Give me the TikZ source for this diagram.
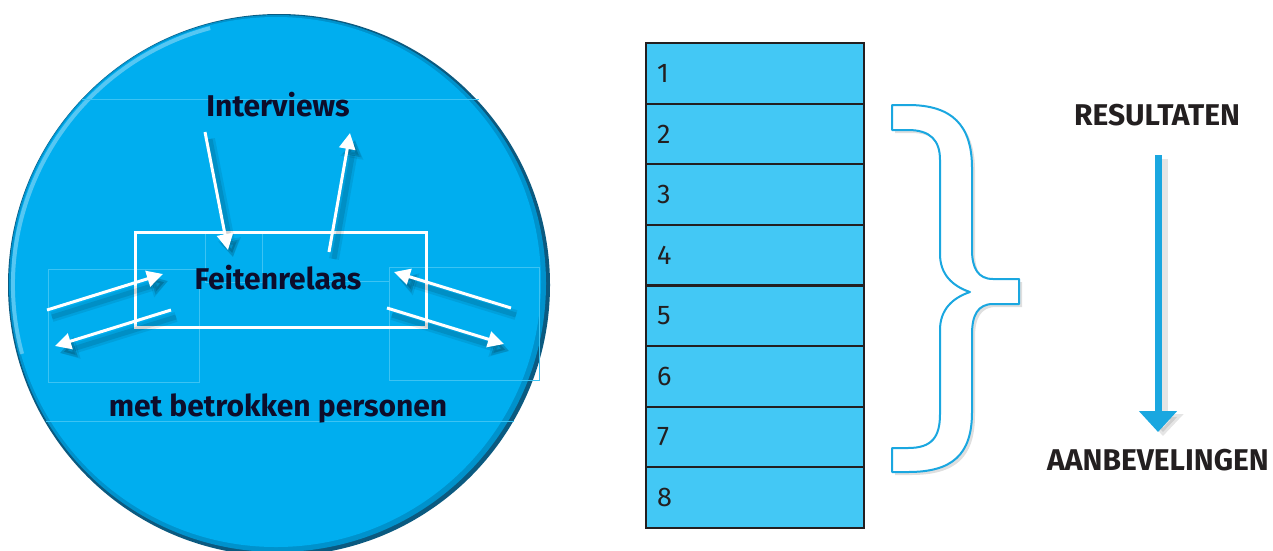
\documentclass[tikz,border=0pt]{standalone}
\usepackage{fontspec}
\setmainfont{Fira Sans}
\usetikzlibrary{arrows.meta,calc,shadows}
\definecolor{cyanball}{HTML}{00AEEF}
\definecolor{cyanmid}{HTML}{0092CC}
\definecolor{rimdark}{HTML}{0B5A80}
\definecolor{rimlight}{HTML}{8FD8F6}
\definecolor{cellblue}{HTML}{43C8F5}
\definecolor{inkdark}{HTML}{231F20}
\definecolor{navy}{HTML}{0D0D2B}
\definecolor{braceblue}{HTML}{1AA7E0}
\definecolor{faint}{HTML}{3CC3F3}
\tikzset{
  whitearrow/.style={draw=white, line width=3pt, -{Triangle[length=16pt,width=16pt]},
    preaction={draw=black, opacity=0.08, line width=10pt, -{Triangle[length=18pt,width=22pt]},
      transform canvas={shift={(5pt,-7pt)}}},
    preaction={draw=black, opacity=0.10, line width=5pt, -{Triangle[length=16pt,width=18pt]},
      transform canvas={shift={(5pt,-7pt)}}}},
  faintline/.style={draw=faint, line width=0.7pt},
  balltext/.style={font=\fontsize{30}{32}\selectfont\bfseries, text=navy, inner sep=0pt},
  cell/.style={draw=inkdark, line width=2pt, fill=cellblue, minimum width=218pt,
    minimum height=60.6pt, anchor=north west, inner sep=0pt},
  num/.style={font=\fontsize{27}{29}\selectfont, text=inkdark, anchor=west, inner sep=0pt},
  sidetext/.style={font=\fontsize{30}{32}\selectfont\bfseries, text=inkdark, inner sep=0pt},
}
\begin{document}
\begin{tikzpicture}[x=1pt,y=-1pt]
\useasboundingbox (0,0) rectangle (1273,550);
% ball
\fill[rimdark] (279,285) circle[radius=271pt];
\fill[cyanmid] (277.5,283.5) circle[radius=268.5pt];
\fill[cyanball] (276,282) circle[radius=265pt];
\draw[rimlight, line width=4pt, opacity=0.6] (279,285) ++(105:266pt) arc[start angle=105, end angle=195, radius=266pt];
% faint guide lines
\draw[faintline] (82,99) -- (479,99);
\draw[faintline] (46,421) -- (514,421);
\draw[faintline] (48,269) rectangle (199,382);
\draw[faintline] (389,267) rectangle (539,380);
\draw[faintline] (205,232) -- (205,282) -- (262,282) -- (262,232);
\draw[faintline] (329,281) -- (389,281);
% texts in ball
\node[balltext] (interviews) at (278,105) {Interviews};
\node[balltext] (feiten) at (278,278) {Feitenrelaas};
\node[balltext] (betrokken) at (278,408) {met betrokken personen};
% white box
\node[draw=white, line width=3pt, minimum width=291pt, minimum height=95pt, inner sep=0pt] (box) at (280.5,279.5) {};
% arrow endpoints
\coordinate (a1s) at (205,132); \coordinate (a1e) at (228,250);
\coordinate (a2s) at (329,252); \coordinate (a2e) at (350,133);
\coordinate (a3s) at (47,310);  \coordinate (a3e) at (163,274);
\coordinate (a4s) at (171,310); \coordinate (a4e) at (55,346);
\coordinate (a5s) at (511,308); \coordinate (a5e) at (394,272);
\coordinate (a6s) at (387,308); \coordinate (a6e) at (504,344);
\draw[whitearrow] (a1s) -- (a1e);
\draw[whitearrow] (a2s) -- (a2e);
\draw[whitearrow] (a3s) -- (a3e);
\draw[whitearrow] (a4s) -- (a4e);
\draw[whitearrow] (a5s) -- (a5e);
\draw[whitearrow] (a6s) -- (a6e);
% table
\foreach \i in {1,...,8}{
  \node[cell] (r\i) at (645,{42+60.625*(\i-1)}) {};
  \node[num] (n\i) at ($(r\i.west)+(12,0)$) {\i};
}
% brace
\path[draw=braceblue, line width=2pt, fill=white, line join=round,
  drop shadow={shadow xshift=3pt, shadow yshift=-3pt, opacity=0.25, fill=gray}]
  (892,105) -- (908,105) .. controls (952,105) and (972,125) .. (972,168)
  -- (972,250) .. controls (972,268) and (978,279) .. (993,279)
  -- (1019,279) -- (1019,304) -- (993,304)
  .. controls (978,304) and (972,315) .. (972,334)
  -- (972,412) .. controls (972,455) and (952,472) .. (908,472)
  -- (892,472) -- (892,448) -- (908,448)
  .. controls (932,448) and (940,437) .. (940,414)
  -- (940,330) .. controls (940,310) and (952,298) .. (970,292)
  .. controls (952,286) and (940,274) .. (940,254)
  -- (940,160) .. controls (940,140) and (930,130) .. (908,130)
  -- (892,130) -- cycle;
% right labels
\node[sidetext] (res) at (1157,115) {RESULTATEN};
\node[sidetext] (aanb) at (1158,460) {AANBEVELINGEN};
\coordinate (bs) at (1158,155);
\coordinate (be) at (1158,432);
\draw[line width=9pt, draw=black, opacity=0.10, -{Triangle[length=22pt,width=40pt]},
  transform canvas={shift={(5pt,-4pt)}}] (bs) -- (be);
\draw[line width=7pt, draw=braceblue, -{Triangle[length=21pt,width=37pt]}] (bs) -- (be);
\end{tikzpicture}
\end{document}
